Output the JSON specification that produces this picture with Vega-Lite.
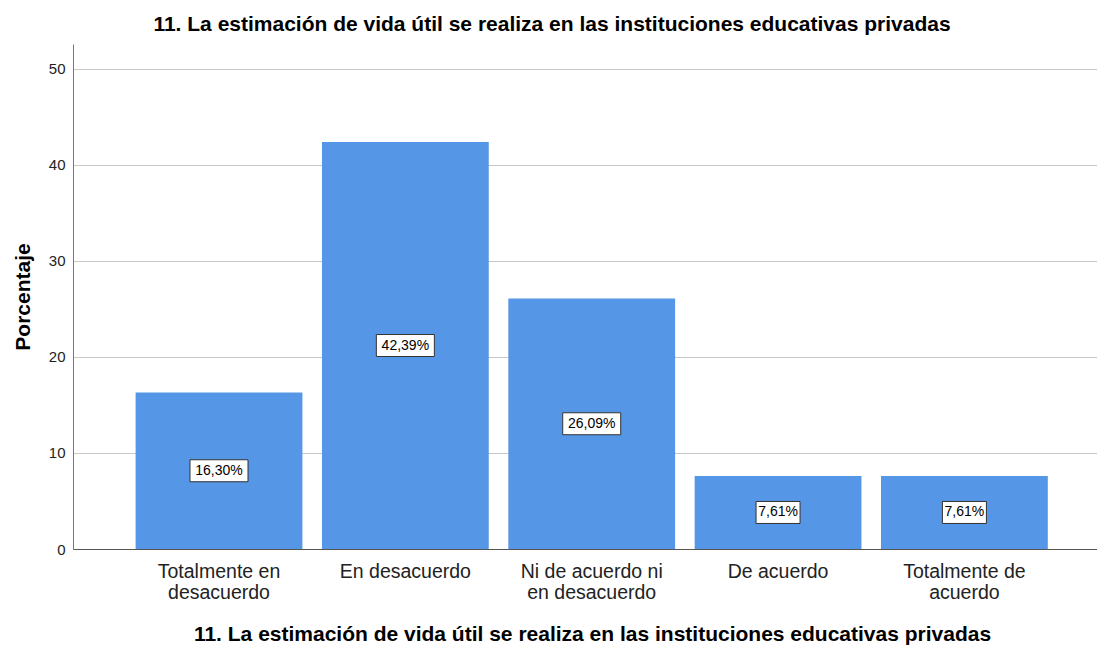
{
  "$schema": "https://vega.github.io/schema/vega-lite/v6.json",
  "autosize": {"type": "none"},
  "width": 1024,
  "height": 505,
  "padding": {"left": 73, "top": 44, "right": 0, "bottom": 96},
  "background": "white",
  "title": {
    "text": "11. La estimación de vida útil se realiza en las instituciones educativas privadas",
    "font": "Liberation Sans",
    "fontSize": 21,
    "fontWeight": "bold",
    "color": "#000000",
    "anchor": "middle",
    "dx": -33,
    "offset": 9
  },
  "data": {
    "values": [
      {"cat": "Totalmente en desacuerdo", "pct": 16.30, "label": "16,30%"},
      {"cat": "En desacuerdo", "pct": 42.39, "label": "42,39%"},
      {"cat": "Ni de acuerdo ni en desacuerdo", "pct": 26.09, "label": "26,09%"},
      {"cat": "De acuerdo", "pct": 7.61, "label": "7,61%"},
      {"cat": "Totalmente de acuerdo", "pct": 7.61, "label": "7,61%"}
    ]
  },
  "encoding": {
    "x": {
      "field": "cat",
      "type": "nominal",
      "sort": null,
      "scale": {"paddingInner": 0.105, "paddingOuter": 0.3, "align": 0.56},
      "axis": {
        "title": "11. La estimación de vida útil se realiza en las instituciones educativas privadas",
        "titleFont": "Liberation Sans",
        "titleFontSize": 21,
        "titleFontWeight": "bold",
        "titleColor": "#000000",
        "titlePadding": 22,
        "titleX": 519,
        "labelAngle": 0,
        "labelFont": "Liberation Sans",
        "labelFontSize": 19.5,
        "labelColor": "#222222",
        "labelPadding": 13,
        "labelLineHeight": 21,
        "labelLimit": 300,
        "ticks": false,
        "domainColor": "#555555",
        "labelExpr": "datum.value == 'Totalmente en desacuerdo' ? ['Totalmente en','desacuerdo'] : datum.value == 'Ni de acuerdo ni en desacuerdo' ? ['Ni de acuerdo ni','en desacuerdo'] : datum.value == 'Totalmente de acuerdo' ? ['Totalmente de','acuerdo'] : datum.value"
      }
    }
  },
  "layer": [
    {
      "mark": {"type": "bar", "color": "#5596E6"},
      "encoding": {
        "y": {
          "field": "pct",
          "type": "quantitative",
          "scale": {"domain": [0, 52.6], "nice": false},
          "axis": {
            "title": "Porcentaje",
            "titleFont": "Liberation Sans",
            "titleFontSize": 21,
            "titleFontWeight": "bold",
            "titleColor": "#000000",
            "titlePadding": 15,
            "values": [0, 10, 20, 30, 40, 50],
            "labelFont": "Liberation Sans",
            "labelFontSize": 15,
            "labelColor": "#222222",
            "labelPadding": 8,
            "ticks": false,
            "domainColor": "#777777",
            "gridColor": "#c8c8c8",
            "gridWidth": 1,
            "grid": true
          }
        }
      }
    },
    {
      "mark": {"type": "point", "filled": true, "fill": "white", "stroke": "#333333", "strokeWidth": 1, "opacity": 1},
      "encoding": {
        "y": {"field": "pct", "type": "quantitative", "scale": {"domain": [0, 105.2], "nice": false}, "axis": null},
        "shape": {
          "condition": {"test": "datum.pct < 10", "value": "M-1,-0.5L1,-0.5L1,0.5L-1,0.5Z"},
          "value": "M-1,-0.379L1,-0.379L1,0.379L-1,0.379Z"
        },
        "size": {"condition": {"test": "datum.pct < 10", "value": 1936}, "value": 3364}
      }
    },
    {
      "mark": {"type": "text", "font": "Liberation Sans", "fontSize": 14, "color": "#000000", "baseline": "middle", "align": "center"},
      "encoding": {
        "y": {"field": "pct", "type": "quantitative", "scale": {"domain": [0, 105.2], "nice": false}, "axis": null},
        "text": {"field": "label"}
      }
    }
  ],
  "resolve": {"scale": {"y": "independent"}},
  "config": {
    "view": {"stroke": null},
    "axis": {"domainWidth": 1}
  }
}
